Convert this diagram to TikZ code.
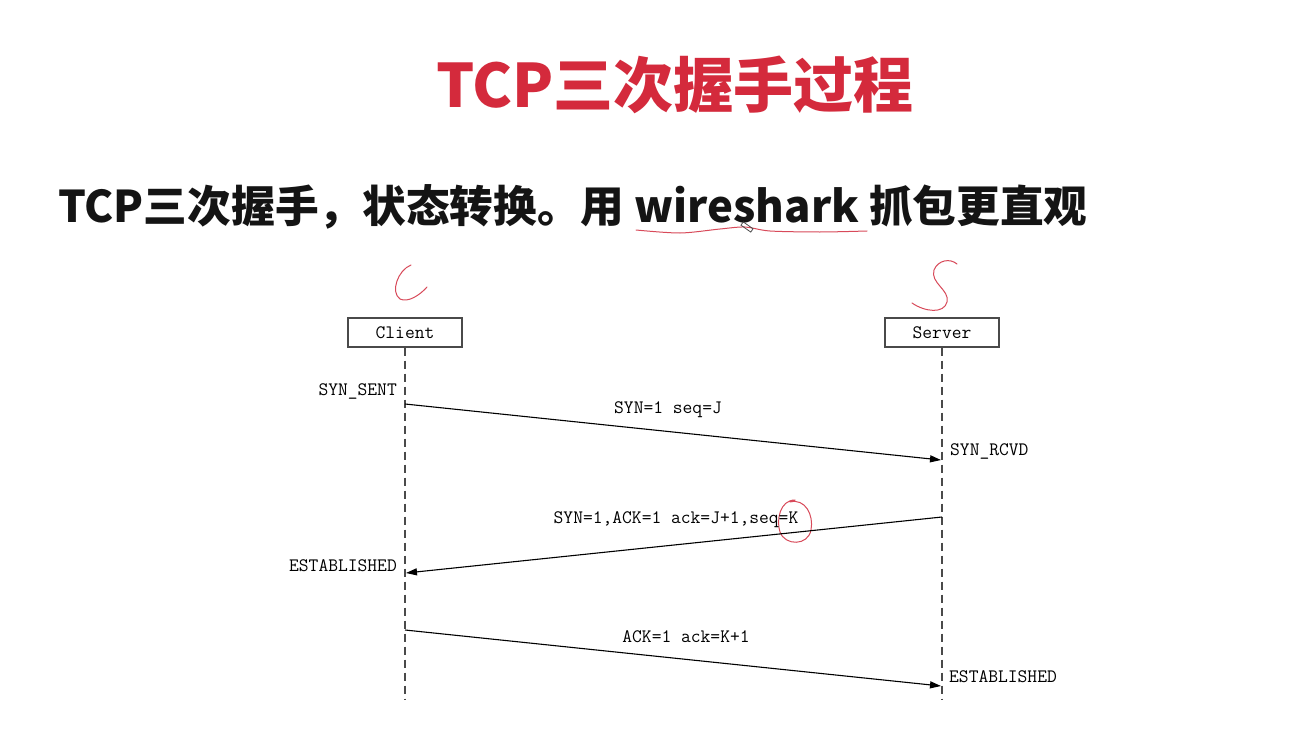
\documentclass[tikz,border=0pt]{standalone}
\usepackage{fontspec}
\usetikzlibrary{arrows.meta}
\newfontfamily\cjk{Noto Sans CJK SC}
\definecolor{titlered}{HTML}{D42A3C}
\definecolor{inkred}{HTML}{D84A5A}
\definecolor{boxgray}{HTML}{4A4A4A}
\begin{document}
\begin{tikzpicture}[x=1pt,y=-1pt,
  title/.style={font=\cjk\bfseries\fontsize{60}{60}\selectfont, text=titlered, inner sep=0},
  headline/.style={font=\cjk\bfseries\fontsize{43.7}{44}\selectfont, text=black!92, inner sep=0},
  actor/.style={draw=boxgray, line width=1.4pt, minimum width=114pt, minimum height=29pt,
    inner sep=0, font=\ttfamily\fontsize{19}{19}\selectfont},
  lifeline/.style={draw=boxgray, dash pattern=on 8pt off 5pt, line width=1.3pt},
  msgarrow/.style={-{Triangle[length=11pt,width=7pt]}, line width=1.1pt},
  lbl/.style={font=\ttfamily\fontsize{19}{19}\selectfont, inner sep=0},
  ink/.style={draw=inkred, line width=1pt, line cap=round, line join=round}]
\fill[white] (0,0) rectangle (1301,733);
\useasboundingbox (0,0) rectangle (1301,733);

% headings
\node[title] (ttl) at (675,85) {TCP三次握手过程};
\node[headline, anchor=west] (sub) at (58,207) {TCP三次握手，状态转换。用 wireshark 抓包更直观};

% hand-drawn marks
\draw[ink] plot[smooth] coordinates {(636,230) (680,233) (720,229) (745,227) (770,231) (820,232) (867,231)};
\draw[boxgray, line width=0.8pt, rotate around={-35:(747,227)}] (741,225) rectangle (753,229);
\draw[ink] (411,265) .. controls (398,270) and (390,292) .. (400,299) .. controls (408,303) and (420,295) .. (427,287);
\draw[ink] (957,264) .. controls (950,258) and (938,260) .. (934,270)
  .. controls (930,283) and (950,290) .. (947,302)
  .. controls (944,314) and (925,312) .. (912,303);
\draw[ink] (795,500) .. controls (780,500) and (776,520) .. (780,532)
  .. controls (785,546) and (808,546) .. (811,530)
  .. controls (814,515) and (805,498) .. (790,502);

% participants and lifelines
\node[actor] (client) at (405,332.5) {Client};
\node[actor] (server) at (942,332.5) {Server};
\coordinate (cend) at (405,700);
\coordinate (send) at (942,700);
\draw[lifeline] (client.south) -- (cend);
\draw[lifeline] (server.south) -- (send);

% handshake messages
\coordinate (m1s) at (405,404);
\coordinate (m1e) at (941,460);
\coordinate (m2s) at (942,517);
\coordinate (m2e) at (406,573);
\coordinate (m3s) at (405,630);
\coordinate (m3e) at (941,686);
\draw[msgarrow] (m1s) -- (m1e);
\draw[msgarrow] (m2s) -- (m2e);
\draw[msgarrow] (m3s) -- (m3e);

\node[lbl] (l1) at (668,410) {SYN=1 seq=J};
\node[lbl] (l2) at (676,520) {SYN=1,ACK=1 ack=J+1,seq=K};
\node[lbl] (l3) at (686,637) {ACK=1 ack=K+1};

% connection states
\node[lbl, anchor=east] (st1) at (397,391) {SYN\_SENT};
\node[lbl, anchor=west] (st2) at (950,451) {SYN\_RCVD};
\node[lbl, anchor=east] (st3) at (397,566) {ESTABLISHED};
\node[lbl, anchor=west] (st4) at (949,677) {ESTABLISHED};
\end{tikzpicture}
\end{document}
